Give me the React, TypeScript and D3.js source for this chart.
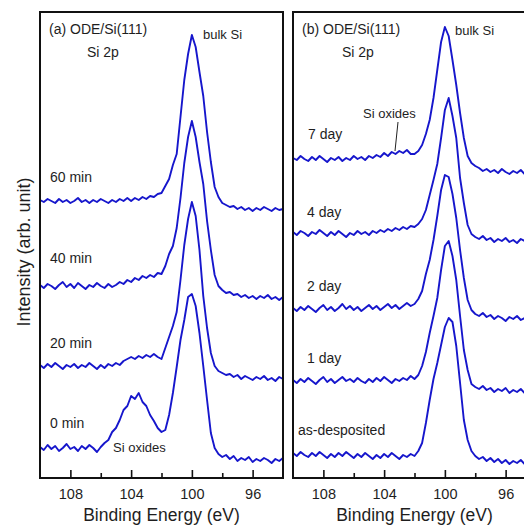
import React, { useEffect, useRef } from 'react';
import * as d3 from 'd3';

// Binding energy grid (eV)
const energies = [110, 109.75, 109.5, 109.25, 109, 108.75, 108.5, 108.25, 108, 107.75, 107.5, 107.25, 107, 106.75, 106.5, 106.25, 106, 105.75, 105.5, 105.25, 105, 104.75, 104.5, 104.25, 104, 103.75, 103.5, 103.25, 103, 102.75, 102.5, 102.25, 102, 101.75, 101.5, 101.25, 101, 100.75, 100.5, 100.25, 100, 99.75, 99.5, 99.25, 99, 98.75, 98.5, 98.25, 98, 97.75, 97.5, 97.25, 97, 96.75, 96.5, 96.25, 96, 95.75, 95.5, 95.25, 95, 94.75, 94.5, 94.25, 94];

// Panel (a): intensity (arb. unit, offset-stacked)
const min60 = [278, 276, 279, 277, 275, 279, 276, 278, 275, 277, 280, 276, 278, 275, 278, 276, 279, 277, 275, 278, 276, 279, 277, 280, 277, 280, 278, 281, 279, 282, 281, 284, 285, 292, 299, 313, 324, 361, 398, 424, 443, 431, 406, 382, 346, 316, 291, 281, 275, 273, 271, 272, 269, 271, 268, 270, 267, 270, 268, 271, 269, 267, 270, 268, 269];
const min40 = [193, 190, 194, 192, 189, 193, 196, 191, 194, 190, 195, 192, 189, 193, 191, 195, 192, 190, 194, 191, 193, 196, 194, 198, 196, 200, 198, 202, 200, 203, 201, 205, 204, 212, 224, 232, 250, 280, 315, 341, 357, 341, 316, 294, 257, 228, 203, 192, 188, 185, 186, 183, 184, 181, 183, 180, 182, 179, 182, 180, 183, 179, 181, 178, 181];
const min20 = [113, 110, 114, 111, 115, 112, 109, 113, 111, 114, 110, 113, 111, 115, 112, 109, 113, 110, 114, 112, 115, 113, 117, 119, 121, 119, 122, 120, 123, 121, 124, 121, 119, 130, 141, 152, 166, 198, 233, 259, 276, 262, 228, 182, 150, 125, 112, 107, 105, 103, 104, 101, 103, 99, 102, 100, 98, 101, 99, 102, 98, 100, 97, 101, 99];
const min0 = [31, 28, 33, 29, 32, 27, 30, 34, 29, 31, 27, 32, 29, 33, 30, 26, 31, 35, 38, 46, 50, 58, 68, 72, 82, 79, 85, 76, 72, 63, 57, 50, 46, 48, 63, 85, 111, 138, 158, 181, 184, 172, 145, 112, 78, 45, 30, 24, 21, 23, 19, 22, 17, 20, 18, 21, 16, 19, 17, 20, 18, 15, 19, 17, 20];

// Panel (b)
const day7 = [320, 318, 322, 319, 317, 321, 318, 322, 319, 316, 320, 318, 321, 317, 320, 318, 322, 319, 321, 318, 322, 320, 323, 321, 325, 322, 326, 324, 327, 325, 328, 324, 324, 327, 333, 344, 358, 380, 408, 436, 451, 442, 418, 393, 365, 340, 322, 315, 312, 310, 307, 309, 306, 308, 305, 309, 306, 304, 307, 305, 308, 304, 306, 303, 306];
const day4 = [246, 243, 247, 245, 242, 246, 244, 248, 245, 242, 246, 243, 247, 244, 241, 245, 243, 247, 244, 246, 243, 247, 245, 248, 246, 249, 247, 250, 248, 251, 249, 252, 251, 254, 259, 268, 283, 298, 314, 340, 368, 380, 362, 340, 300, 275, 253, 244, 241, 239, 242, 238, 240, 236, 239, 237, 240, 236, 238, 235, 239, 237, 234, 238, 236];
const day2 = [170, 167, 171, 168, 172, 169, 166, 170, 173, 168, 171, 167, 170, 174, 169, 172, 168, 171, 167, 170, 173, 169, 172, 168, 171, 174, 170, 173, 169, 172, 175, 172, 174, 179, 187, 204, 218, 238, 262, 288, 303, 301, 284, 260, 228, 200, 178, 168, 164, 162, 165, 161, 163, 159, 162, 160, 157, 161, 159, 162, 158, 160, 157, 161, 158];
const day1 = [98, 95, 99, 96, 100, 97, 94, 98, 101, 96, 99, 95, 98, 101, 97, 99, 96, 100, 97, 95, 99, 96, 100, 97, 101, 98, 95, 99, 97, 100, 98, 102, 99, 103, 112, 126, 145, 162, 180, 208, 232, 237, 222, 198, 162, 128, 108, 94, 91, 89, 92, 88, 90, 86, 89, 87, 90, 85, 88, 86, 89, 85, 87, 84, 87];
const asdep = [25, 22, 26, 23, 21, 25, 22, 26, 23, 20, 24, 21, 25, 22, 26, 23, 20, 24, 21, 25, 22, 19, 23, 20, 24, 21, 25, 22, 19, 23, 21, 24, 22, 27, 35, 55, 78, 99, 115, 133, 151, 160, 156, 132, 95, 58, 38, 27, 22, 19, 21, 17, 20, 16, 19, 15, 18, 14, 17, 15, 18, 14, 16, 13, 17];

const panelASeriesNames = ['0 min', '20 min', '40 min', '60 min'];
const panelASeries = [min0, min20, min40, min60];
const panelBSeriesNames = ['as-desposited', '1 day', '2 day', '4 day', '7 day'];
const panelBSeries = [asdep, day1, day2, day4, day7];

const majorTicks = [108, 104, 100, 96];
const minorTicks = [106, 102, 98];
const energyDomain = [110, 94];
const intensityDomain = [0, 466];

// ---- layout (styles / positions) ----
const FONT = "'Liberation Sans', Arial, Helvetica, sans-serif";
const TOP = 12;
const BOTTOM = 478;
const LINE_COLOR = '#1616cc';
const TEXT_COLOR = '#1e1e1e';

const panelA = { left: 40, right: 283 };
const panelB = { left: 293, right: 536 };

const labelPosA = [
  { x: 50, y: 428 },
  { x: 50, y: 348 },
  { x: 50, y: 263 },
  { x: 50, y: 182 },
];
const labelPosB = [
  { x: 298, y: 435 },
  { x: 307, y: 363 },
  { x: 307, y: 291 },
  { x: 307, y: 217 },
  { x: 308, y: 139 },
];

export default function App() {
  const ref = useRef<SVGGElement | null>(null);

  const xA = d3.scaleLinear().domain(energyDomain).range([panelA.left, panelA.right]);
  const xB = d3.scaleLinear().domain(energyDomain).range([panelB.left, panelB.right]);
  const y = d3.scaleLinear().domain(intensityDomain).range([BOTTOM, TOP]);

  useEffect(() => {
    const g = d3.select(ref.current);
    g.selectAll('*').remove();
    [xA, xB].forEach((x) => {
      const major = g
        .append('g')
        .attr('transform', `translate(0,${BOTTOM})`)
        .call(
          d3
            .axisBottom(x)
            .tickValues(majorTicks)
            .tickSizeInner(-8)
            .tickSizeOuter(0)
            .tickPadding(11)
            .tickFormat(d3.format('d'))
        );
      major.select('.domain').remove();
      major.selectAll('line').attr('stroke', '#111').attr('stroke-width', 1.6);
      major
        .selectAll('text')
        .attr('font-size', 14.5)
        .attr('font-family', FONT)
        .attr('fill', TEXT_COLOR);
      const minor = g
        .append('g')
        .attr('transform', `translate(0,${BOTTOM})`)
        .call(d3.axisBottom(x).tickValues(minorTicks).tickSizeInner(-5).tickSizeOuter(0).tickFormat(() => ''));
      minor.select('.domain').remove();
      minor.selectAll('line').attr('stroke', '#111').attr('stroke-width', 1.6);
    });
  }, []);

  const line = (x: d3.ScaleLinear<number, number>) =>
    d3
      .line<number>()
      .x((_, i) => x(energies[i]))
      .y((d) => y(d));

  const lineA = line(xA);
  const lineB = line(xB);

  const txt = (s: string, x: number, yy: number, size = 14, extra: any = {}) => (
    <text x={x} y={yy} fontSize={size} fontFamily={FONT} fill={TEXT_COLOR} {...extra}>
      {s}
    </text>
  );

  return (
    <svg
      width={524}
      height={525}
      style={{ position: 'absolute', left: 0, top: 0, background: '#fff' }}
    >
      <rect x={0} y={0} width={524} height={525} fill="#fff" />
      {/* spectra */}
      <g fill="none" stroke={LINE_COLOR} strokeWidth={1.9} strokeLinejoin="round">
        {panelASeries.map((s, i) => (
          <path key={'a' + i} d={lineA(s) || ''} />
        ))}
        {panelBSeries.map((s, i) => (
          <path key={'b' + i} d={lineB(s) || ''} />
        ))}
      </g>
      {/* frames */}
      <rect
        x={panelA.left}
        y={TOP}
        width={panelA.right - panelA.left}
        height={BOTTOM - TOP}
        fill="none"
        stroke="#111"
        strokeWidth={2}
      />
      <rect
        x={panelB.left}
        y={TOP}
        width={panelB.right - panelB.left}
        height={BOTTOM - TOP}
        fill="none"
        stroke="#111"
        strokeWidth={2}
      />
      <g ref={ref} />
      {/* series labels */}
      {panelASeriesNames.map((n, i) => (
        <React.Fragment key={'la' + i}>{txt(n, labelPosA[i].x, labelPosA[i].y)}</React.Fragment>
      ))}
      {panelBSeriesNames.map((n, i) => (
        <React.Fragment key={'lb' + i}>{txt(n, labelPosB[i].x, labelPosB[i].y)}</React.Fragment>
      ))}
      {/* panel annotations */}
      {txt('(a) ODE/Si(111)', 49, 34)}
      {txt('Si 2p', 87, 57)}
      {txt('bulk Si', 203, 39, 13)}
      {txt('Si oxides', 113, 452, 13)}
      {txt('(b) ODE/Si(111)', 302, 34)}
      {txt('Si 2p', 342, 57)}
      {txt('bulk Si', 455, 35, 13)}
      {txt('Si oxides', 363, 118, 13)}
      <line x1={398} y1={122} x2={395} y2={151} stroke="#222" strokeWidth={1} />
      {/* axis titles */}
      {txt('Binding Energy (eV)', (panelA.left + panelA.right) / 2, 521, 17.5, { textAnchor: 'middle' })}
      {txt('Binding Energy (eV)', (panelB.left + panelB.right) / 2, 521, 17.5, { textAnchor: 'middle' })}
      {txt('Intensity (arb. unit)', 0, 0, 18, {
        textAnchor: 'middle',
        transform: 'translate(30,252) rotate(-90)',
      })}
    </svg>
  );
}
